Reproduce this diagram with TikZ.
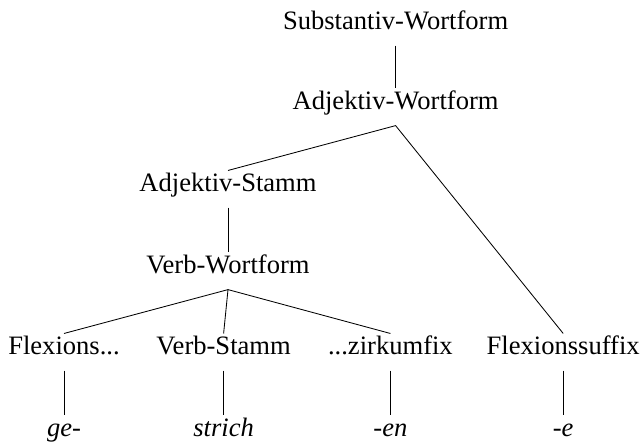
\documentclass[tikz,border=0pt]{standalone}
\usepackage{fontspec}
\setmainfont{Liberation Serif}
\newcommand{\pkt}{...}
\newcommand{\baumfont}{\fontsize{18.9}{23}\selectfont}
\tikzset{
  cat/.style={anchor=base, inner sep=0pt, outer sep=0.285cm,
    text height=0.72em, text depth=0.3em, font=\baumfont},
  leaf/.style={cat, font=\baumfont\itshape},
  branch/.style={line width=0.6pt}
}
\begin{document}
\begin{tikzpicture}
\useasboundingbox (0,0) rectangle (16,11.125);
\node[cat] (sw) at (9.89,10.375) {Substantiv-Wortform};
\node[cat] (aw) at (9.89,8.375) {Adjektiv-Wortform};
\node[cat] (as) at (5.7,6.325) {Adjektiv-Stamm};
\node[cat] (vw) at (5.7,4.275) {Verb-Wortform};
% untere Ebene: Kategorie und Form
\foreach \x/\n/\c/\f in {1.6/a/Flexions\pkt/ge-, 5.59/b/Verb-Stamm/strich,
    9.76/c/\pkt zirkumfix/-en, 14.08/d/Flexionssuffix/-e} {
  \node[cat] (k\n) at (\x,2.25) {\c};
  \node[leaf] (f\n) at (\x,0.2) {\f};
  \draw[branch] (k\n.south) -- (f\n.north);
}
\draw[branch] (sw.south) -- (aw.north);
\draw[branch] (as.north) -- (aw.south) -- (kd.north);
\draw[branch] (as.south) -- (vw.north);
\foreach \n in {a,b,c}
  \draw[branch] (vw.south) -- (k\n.north);
\end{tikzpicture}
\end{document}
